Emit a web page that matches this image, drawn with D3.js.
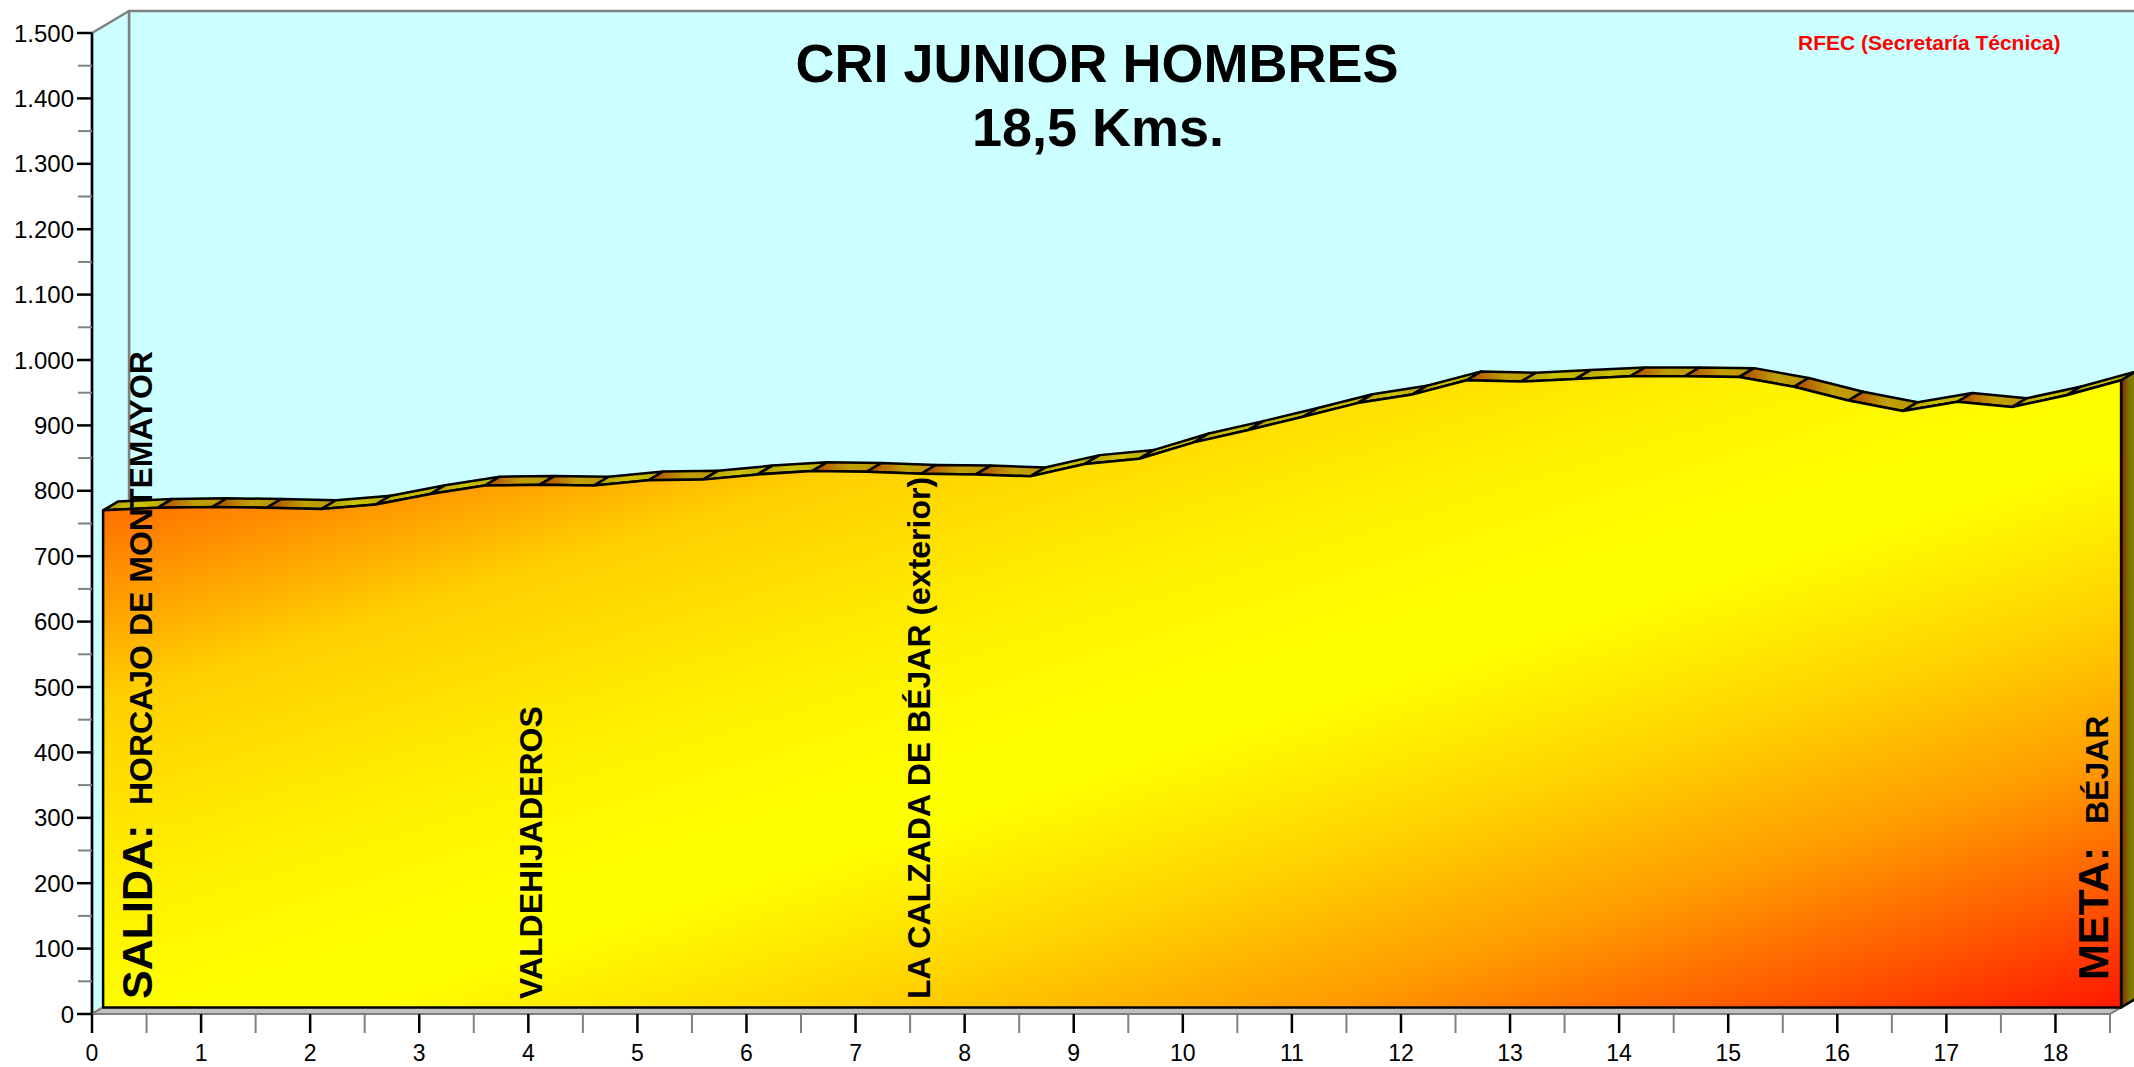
<!DOCTYPE html>
<html>
<head>
<meta charset="utf-8">
<script src="https://cdn.jsdelivr.net/npm/d3@7"></script>
<style>
  html, body { margin: 0; padding: 0; background: #ffffff; }
  svg { display: block; }
  text { font-family: "Liberation Sans", Arial, Helvetica, sans-serif; }
</style>
</head>
<body>
<svg id="chart" width="2134" height="1067"></svg>
<script>
// ---------- DATA ----------
const kms = [0, 0.5, 1, 1.5, 2, 2.5, 3, 3.5, 4, 4.5, 5, 5.5, 6, 6.5, 7, 7.5, 8, 8.5, 9, 9.5,
             10, 10.5, 11, 11.5, 12, 12.5, 13, 13.5, 14, 14.5, 15, 15.5, 16, 16.5, 17, 17.5, 18, 18.5];
const elevation = [760, 764, 765, 764, 762, 769, 785, 798, 799, 798, 806, 807, 815, 820, 819, 816, 815, 812, 831, 839,
                   864, 883, 903, 924, 937, 959, 957, 961, 965, 965, 964, 949, 928, 912, 926, 918, 936, 959];
const xTicks = [0, 1, 2, 3, 4, 5, 6, 7, 8, 9, 10, 11, 12, 13, 14, 15, 16, 17, 18];
const xMinorTicks = [0.5, 1.5, 2.5, 3.5, 4.5, 5.5, 6.5, 7.5, 8.5, 9.5, 10.5, 11.5, 12.5, 13.5, 14.5, 15.5, 16.5, 17.5, 18.5];
const yTicks = [0, 100, 200, 300, 400, 500, 600, 700, 800, 900, 1000, 1100, 1200, 1300, 1400, 1500];
const yMinorTicks = [50, 150, 250, 350, 450, 550, 650, 750, 850, 950, 1050, 1150, 1250, 1350, 1450];
const titleLines = ["CRI JUNIOR HOMBRES", "18,5 Kms."];
const sourceText = "RFEC (Secretaría Técnica)";
const startLabel = ["SALIDA:", "HORCAJO DE MONTEMAYOR"];
const finishLabel = ["META:", "BÉJAR"];
const placeLabels = [
  { km: 4.0, name: "VALDEHIJADEROS" },
  { km: 7.55, name: "LA CALZADA DE BÉJAR (exterior)" }
];

// ---------- SETUP ----------
const svg = d3.select("#chart");
const x = d3.scaleLinear().domain([0, 18.5]).range([92, 2110]);
const y = d3.scaleLinear().domain([0, 1500]).range([1014, 33]);
const D = [37, -22];          // depth vector (3D)
const f0 = 0.3, f1 = 0.7;     // series depth slab
const sd = [(f1 - f0) * D[0], (f1 - f0) * D[1]];
const esLocale = d3.formatLocale({ decimal: ",", thousands: ".", grouping: [3], currency: ["", " €"] });
const fmt = esLocale.format(",");
const defs = svg.append("defs");

// ---------- WALLS ----------
const x0 = x(0), x1 = x(18.5), yb = y(0), yt = y(1500);
svg.append("rect")
  .attr("x", x0 + D[0]).attr("y", yt + D[1])
  .attr("width", x1 - x0 + 10).attr("height", yb - yt)
  .attr("fill", "#CCFFFF").attr("stroke", "#808080").attr("stroke-width", 2.5);
svg.append("polygon")
  .attr("points", [[x0, yt], [x0 + D[0], yt + D[1]], [x0 + D[0], yb + D[1]], [x0, yb]].join(" "))
  .attr("fill", "#CCFFFF").attr("stroke", "#808080").attr("stroke-width", 2.5).attr("stroke-linejoin", "round");
// floor
svg.append("polygon")
  .attr("points", [[x0, yb], [x1, yb], [x1 + D[0], yb + D[1]], [x0 + D[0], yb + D[1]]].join(" "))
  .attr("fill", "#C0C0C0").attr("stroke", "#808080").attr("stroke-width", 2);

// ---------- SERIES (3D area) ----------
const front = kms.map((k, i) => [x(k) + f0 * D[0], y(elevation[i]) + f0 * D[1]]);
const base = y(0) + f0 * D[1];

// gradients
const fg = defs.append("linearGradient").attr("id", "frontGrad")
  .attr("x1", 0).attr("y1", 0).attr("x2", 1).attr("y2", 1);
[[0, "#FF4000"], [0.1, "#FF6C00"], [0.26, "#FFD000"], [0.42, "#FFF200"], [0.52, "#FFFF00"], [0.56, "#FFFF00"],
 [0.68, "#FFD400"], [0.8, "#FF9C00"], [0.9, "#FF5C00"], [1, "#FF1800"]]
  .forEach(s => fg.append("stop").attr("offset", s[0]).attr("stop-color", s[1]));

const gFlat = defs.append("linearGradient").attr("id", "topFlat").attr("x1", 0).attr("y1", 0).attr("x2", 1).attr("y2", 0);
gFlat.append("stop").attr("offset", 0).attr("stop-color", "#B04400");
gFlat.append("stop").attr("offset", 0.55).attr("stop-color", "#C0A000");
gFlat.append("stop").attr("offset", 1).attr("stop-color", "#BC9400");
const gRise = defs.append("linearGradient").attr("id", "topRise").attr("x1", 0).attr("y1", 0).attr("x2", 1).attr("y2", 0);
gRise.append("stop").attr("offset", 0).attr("stop-color", "#B09800");
gRise.append("stop").attr("offset", 0.5).attr("stop-color", "#CCC200");
gRise.append("stop").attr("offset", 1).attr("stop-color", "#B8A800");
const gSide = defs.append("linearGradient").attr("id", "sideGrad").attr("x1", 0).attr("y1", 0).attr("x2", 1).attr("y2", 0);
gSide.append("stop").attr("offset", 0).attr("stop-color", "#802800");
gSide.append("stop").attr("offset", 0.6).attr("stop-color", "#807800");
gSide.append("stop").attr("offset", 1).attr("stop-color", "#808000");

// top faces
const segs = d3.range(front.length - 1).map(i => ({ a: front[i], b: front[i + 1], rise: elevation[i + 1] - elevation[i] }));
svg.append("g").selectAll("polygon").data(segs).join("polygon")
  .attr("points", d => [d.a, d.b, [d.b[0] + sd[0], d.b[1] + sd[1]], [d.a[0] + sd[0], d.a[1] + sd[1]]].join(" "))
  .attr("fill", d => d.rise > 3 ? "url(#topRise)" : "url(#topFlat)")
  .attr("stroke", "#000").attr("stroke-width", 2.5).attr("stroke-linejoin", "round");

// right side face
const last = front[front.length - 1];
svg.append("polygon")
  .attr("points", [last, [last[0] + sd[0], last[1] + sd[1]], [last[0] + sd[0], base + sd[1]], [last[0], base]].join(" "))
  .attr("fill", "url(#sideGrad)").attr("stroke", "#000").attr("stroke-width", 2.5).attr("stroke-linejoin", "round");

// front face
const area = d3.area().x(d => d[0]).y0(base).y1(d => d[1]);
svg.append("path")
  .attr("d", area(front))
  .attr("fill", "url(#frontGrad)").attr("stroke", "#000").attr("stroke-width", 2.5).attr("stroke-linejoin", "round");

// ---------- AXES ----------
const ax = svg.append("g");
// y axis
ax.append("line").attr("x1", x0).attr("x2", x0).attr("y1", yt).attr("y2", yb).attr("stroke", "#000").attr("stroke-width", 2.5);
ax.selectAll(".ymin").data(yMinorTicks).join("line")
  .attr("x1", x0 - 14).attr("x2", x0).attr("y1", d => y(d)).attr("y2", d => y(d))
  .attr("stroke", "#808080").attr("stroke-width", 2);
ax.selectAll(".ymaj").data(yTicks).join("line")
  .attr("x1", x0 - 15).attr("x2", x0).attr("y1", d => y(d)).attr("y2", d => y(d))
  .attr("stroke", "#000").attr("stroke-width", 2.5);
ax.selectAll(".ylab").data(yTicks).join("text")
  .attr("x", 74).attr("y", d => y(d) + 8.5)
  .attr("text-anchor", "end").attr("font-size", 24).attr("fill", "#000")
  .text(d => fmt(d));
// x axis
ax.append("line").attr("x1", x0).attr("x2", x1).attr("y1", yb).attr("y2", yb).attr("stroke", "#808080").attr("stroke-width", 2);
ax.selectAll(".xmin").data(xMinorTicks).join("line")
  .attr("x1", d => x(d)).attr("x2", d => x(d)).attr("y1", yb).attr("y2", yb + 19)
  .attr("stroke", "#808080").attr("stroke-width", 2);
ax.selectAll(".xmaj").data(xTicks).join("line")
  .attr("x1", d => x(d)).attr("x2", d => x(d)).attr("y1", yb).attr("y2", yb + 19)
  .attr("stroke", "#000").attr("stroke-width", 2.5);
ax.selectAll(".xlab").data(xTicks).join("text")
  .attr("x", d => x(d)).attr("y", 1061)
  .attr("text-anchor", "middle").attr("font-size", 23).attr("fill", "#000")
  .text(d => d);

// ---------- TEXTS ----------
svg.append("text").attr("x", 1097).attr("y", 82).attr("text-anchor", "middle")
  .attr("font-size", 54).attr("font-weight", "bold").text(titleLines[0]);
svg.append("text").attr("x", 1098).attr("y", 146).attr("text-anchor", "middle")
  .attr("font-size", 54).attr("font-weight", "bold").text(titleLines[1]);
svg.append("text").attr("x", 1798).attr("y", 50).attr("text-anchor", "start")
  .attr("font-size", 21).attr("font-weight", "bold").attr("fill", "#FF0000").text(sourceText);

function vtext(px, py, size, txt) {
  svg.append("text")
    .attr("transform", `translate(${px},${py}) rotate(-90)`)
    .attr("text-anchor", "start").attr("font-size", size).attr("font-weight", "bold").attr("fill", "#000")
    .text(txt);
}
const baseLabelY = 999;
vtext(x(0) + 60, baseLabelY, 43, startLabel[0]);
vtext(x(0) + 60, 805, 32, startLabel[1]);
placeLabels.forEach(p => vtext(x(p.km) + 14, baseLabelY, 32, p.name));
vtext(x(18.5) - 2, 980, 43, finishLabel[0]);
vtext(x(18.5) - 2, 824, 32, finishLabel[1]);
</script>
</body>
</html>
